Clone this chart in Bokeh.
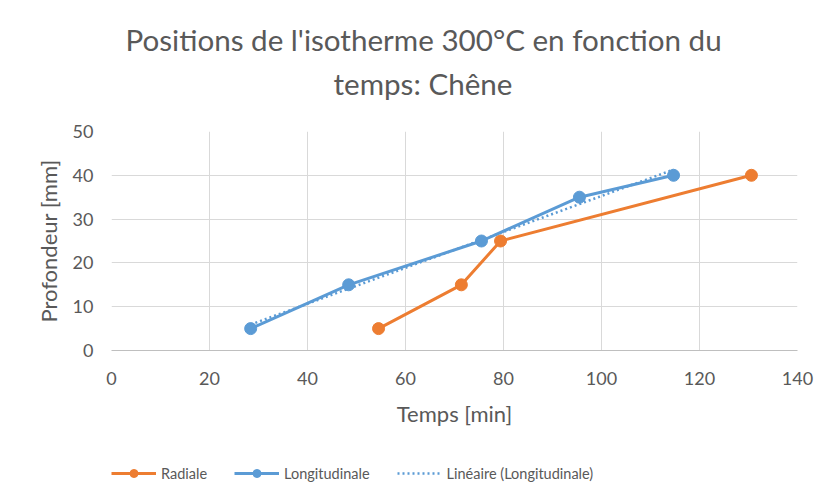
import numpy as np
from bokeh.plotting import figure
from bokeh.layouts import column
from bokeh.models import Range1d, FixedTicker, Legend, LegendItem, Title
from bokeh.embed import file_html
from bokeh.resources import INLINE

# data
radiale_x = [54.5, 71.4, 79.4, 130.6]
radiale_y = [5, 15, 25, 40]
longi_x = [28.4, 48.4, 75.5, 95.5, 114.7]
longi_y = [5, 15, 25, 35, 40]
x_ticks = [0, 20, 40, 60, 80, 100, 120, 140]
y_ticks = [0, 10, 20, 30, 40, 50]
title_lines = ["Positions de l'isotherme 300°C en fonction du", "temps: Chêne"]
series_names = ["Radiale", "Longitudinale", "Linéaire (Longitudinale)"]

ORANGE = "#ED7D31"
BLUE = "#5B9BD5"
TXT = "#595959"
FONT = "Lato"

W = 819
H_MAIN = 440
H_LEG = 54

p = figure(width=W, height=H_MAIN, output_backend="svg", toolbar_location=None,
           x_range=Range1d(0, 140), y_range=Range1d(0, 50),
           min_border_left=111, min_border_right=22, min_border_top=131,
           min_border_bottom=H_MAIN - 350)
p.outline_line_color = None
p.background_fill_color = "white"
p.border_fill_color = "white"

# title (two lines): p.title is the outer line, the added Title sits next to the frame
t1 = p.title
t1.text = title_lines[0]
t2 = Title(text=title_lines[1])
for t, so, off in ((t1, -48, 14), (t2, 62, 222)):
    t.text_font = FONT
    t.text_font_size = "29.6px"
    t.text_font_style = "normal"
    t.text_color = TXT
    t.align = "left"
    t.offset = off
    t.standoff = so
p.add_layout(t2, "above")

for ax in (p.xaxis[0], p.yaxis[0]):
    ax.major_label_text_font = FONT
    ax.major_label_text_color = TXT
    ax.major_label_text_font_size = "18px"
    ax.axis_label_text_font = FONT
    ax.axis_label_text_color = TXT
    ax.axis_label_text_font_size = "22px"
    ax.axis_label_text_font_style = "normal"
    ax.major_tick_line_color = None
    ax.minor_tick_line_color = None
    ax.major_tick_out = 0
    ax.major_tick_in = 0
    ax.minor_tick_out = 0
    ax.minor_tick_in = 0

p.xaxis.ticker = FixedTicker(ticks=x_ticks)
p.yaxis.ticker = FixedTicker(ticks=y_ticks)
p.xaxis.axis_label = "Temps [min]"
p.yaxis.axis_label = "Profondeur [mm]"
p.xaxis.axis_line_color = "#bfbfbf"
p.yaxis.axis_line_color = None
p.xaxis.major_label_standoff = 21
p.xaxis.axis_label_standoff = 12
p.yaxis.major_label_standoff = 18
p.yaxis.axis_label_standoff = 8

p.xgrid.grid_line_color = "#d9d9d9"
p.ygrid.grid_line_color = "#d9d9d9"

# trendline (least squares on Longitudinale)
a, b = np.polyfit(longi_x, longi_y, 1)
tx = [min(longi_x), max(longi_x)]
ty = [a * v + b for v in tx]

trend_style = dict(line_color=BLUE, line_width=2.5, line_dash="2 3")
rad_line = dict(line_color=ORANGE, line_width=3)
rad_mark = dict(marker="circle", size=12, fill_color=ORANGE, line_color=ORANGE)
lon_line = dict(line_color=BLUE, line_width=3)
lon_mark = dict(marker="circle", size=12, fill_color=BLUE, line_color=BLUE)

p.line(tx, ty, **trend_style)
p.line(radiale_x, radiale_y, **rad_line)
p.scatter(radiale_x, radiale_y, **rad_mark)
p.line(longi_x, longi_y, **lon_line)
p.scatter(longi_x, longi_y, **lon_mark)

# legend strip below (separate figure with the same series, kept outside its view)
q = figure(width=W, height=H_LEG, output_backend="svg", toolbar_location=None,
           x_range=Range1d(-2, -1), y_range=Range1d(-2, -1),
           x_axis_location=None, y_axis_location=None,
           min_border_left=0, min_border_right=0, min_border_top=0, min_border_bottom=0)
q.outline_line_color = None
q.xgrid.visible = False
q.ygrid.visible = False
q.border_fill_color = "white"
q.background_fill_color = "white"
lr1 = q.line(radiale_x, radiale_y, **rad_line)
lm1 = q.scatter(radiale_x, radiale_y, **rad_mark)
lr2 = q.line(longi_x, longi_y, **lon_line)
lm2 = q.scatter(longi_x, longi_y, **lon_mark)
lr3 = q.line(tx, ty, **trend_style)

legend = Legend(items=[
    LegendItem(label=series_names[0], renderers=[lr1, lm1]),
    LegendItem(label=series_names[1], renderers=[lr2, lm2]),
    LegendItem(label=series_names[2], renderers=[lr3]),
], orientation="horizontal", location=(0, 11))
legend.label_text_font = FONT
legend.label_text_font_size = "14.5px"
legend.label_text_color = TXT
legend.glyph_width = 45
legend.glyph_height = 20
legend.label_standoff = 5
legend.spacing = 27
legend.padding = 0
legend.margin = 0
legend.border_line_color = None
legend.background_fill_alpha = 0
q.add_layout(legend, "center")

layout = column(p, q, spacing=0)
open("out.html", "w").write(file_html(layout, INLINE))
